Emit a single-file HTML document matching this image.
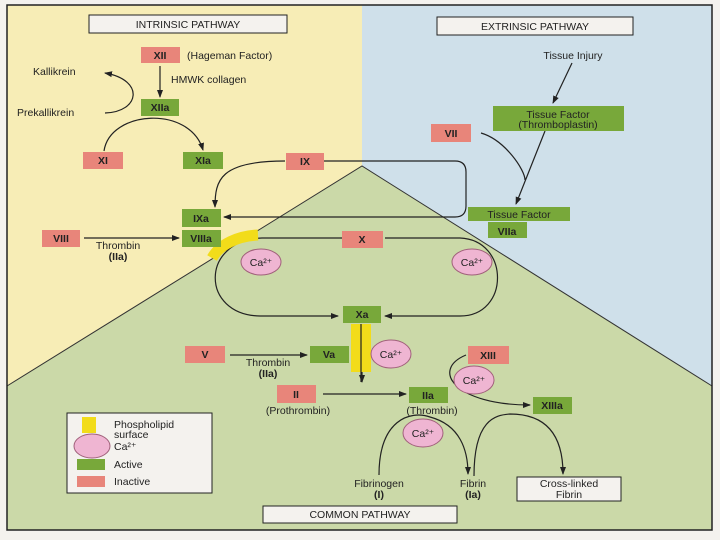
<!DOCTYPE html>
<html><head><meta charset="utf-8"><style>
body{margin:0;background:#fff;}
svg{display:block;}
text{font-family:"Liberation Sans",sans-serif;font-size:10.5px;fill:#222;}
.b{font-weight:bold;text-anchor:middle;}
.c{text-anchor:middle;}
</style></head><body>
<svg width="720" height="540" viewBox="0 0 720 540">
<defs><marker id="a" markerWidth="8" markerHeight="8" refX="7" refY="4" orient="auto" markerUnits="userSpaceOnUse"><path d="M0,1 L8,4 L0,7 Z" fill="#222"/></marker></defs>
<rect x="0" y="0" width="720" height="540" fill="#f4f2ee"/>
<rect x="7" y="5" width="355" height="525" fill="#f7edb6"/>
<rect x="362" y="5" width="350" height="525" fill="#cfe0ea"/>
<polygon points="362,166 7,386 7,530 712,530 712,386" fill="#cbd9a8"/>
<polyline points="7,386 362,166 712,386" fill="none" stroke="#333" stroke-width="1"/>
<rect x="7" y="5" width="705" height="525" fill="none" stroke="#222" stroke-width="1.5"/>
<rect x="89" y="15" width="198" height="18" fill="#f4f2ee" stroke="#222"/>
<text x="188" y="28" class="c">INTRINSIC PATHWAY</text>
<rect x="437" y="17" width="196" height="18" fill="#f4f2ee" stroke="#222"/>
<text x="535" y="30" class="c">EXTRINSIC PATHWAY</text>
<rect x="263" y="506" width="194" height="17" fill="#f4f2ee" stroke="#222"/>
<text x="360" y="518" class="c">COMMON PATHWAY</text>
<g fill="none" stroke="#222" stroke-width="1.2">
<line x1="160" y1="66" x2="160" y2="97" marker-end="url(#a)"/>
<path d="M105,113 C140,112 145,80 105,73" marker-end="url(#a)"/>
<path d="M104,151 C110,110 190,105 203,150" marker-end="url(#a)"/>
<path d="M285,161 C220,161 215,180 215,207" marker-end="url(#a)"/>
<path d="M324,161 L455,161 Q466,161 466,172 L466,206 Q466,217 455,217 L224,217" marker-end="url(#a)"/>
<line x1="84" y1="238" x2="179" y2="238" marker-end="url(#a)"/>
<path d="M342,238 L262,238 C200,240 200,315 260,316 L338,316" marker-end="url(#a)"/>
<path d="M385,238 L460,238 C510,240 510,316 460,316 L385,316" marker-end="url(#a)"/>
<path d="M572,63 L553,103" marker-end="url(#a)"/>
<path d="M545,131 L516,204" marker-end="url(#a)"/>
<path d="M481,133 C505,140 525,170 525,180"/>
<line x1="362" y1="324" x2="362" y2="382" marker-end="url(#a)"/>
<line x1="230" y1="355" x2="307" y2="355" marker-end="url(#a)"/>
<line x1="323" y1="394" x2="406" y2="394" marker-end="url(#a)"/>
<path d="M466,355 C430,370 455,405 530,405" marker-end="url(#a)"/>
<path d="M379,475 C379,420 410,410 430,417 C460,425 468,450 468,474" marker-end="url(#a)"/>
<path d="M474,476 C474,420 495,415 510,414 C550,414 563,440 563,474" marker-end="url(#a)"/>
</g>
<path d="M212,258 C220,244 238,236 258,235" fill="none" stroke="#f2dc1a" stroke-width="11"/>
<rect x="351" y="324" width="20" height="48" fill="#f2dc1a"/>
<line x1="361" y1="324" x2="361" y2="382" stroke="#222" stroke-width="1.2"/>
<g fill="#e8857a">
<rect x="141" y="47" width="39" height="16"/>
<rect x="83" y="152" width="40" height="17"/>
<rect x="286" y="153" width="38" height="17"/>
<rect x="42" y="230" width="38" height="17"/>
<rect x="342" y="231" width="41" height="17"/>
<rect x="431" y="124" width="40" height="18"/>
<rect x="185" y="346" width="40" height="17"/>
<rect x="468" y="346" width="41" height="18"/>
<rect x="277" y="385" width="39" height="18"/>
</g>
<g fill="#78a83a">
<rect x="141" y="99" width="38" height="17"/>
<rect x="183" y="152" width="40" height="17"/>
<rect x="182" y="209" width="39" height="18"/>
<rect x="182" y="230" width="39" height="17"/>
<rect x="493" y="106" width="131" height="25"/>
<rect x="468" y="207" width="102" height="14"/>
<rect x="488" y="222" width="39" height="16"/>
<rect x="343" y="306" width="38" height="17"/>
<rect x="310" y="346" width="39" height="17"/>
<rect x="409" y="387" width="39" height="16"/>
<rect x="533" y="397" width="39" height="17"/>
</g>
<g fill="#efb5d2" stroke="#a0607a">
<ellipse cx="261" cy="262" rx="20" ry="13"/>
<ellipse cx="472" cy="262" rx="20" ry="13"/>
<ellipse cx="391" cy="354" rx="20" ry="14"/>
<ellipse cx="474" cy="380" rx="20" ry="14"/>
<ellipse cx="423" cy="433" rx="20" ry="14"/>
</g>
<text x="160" y="59" class="b">XII</text>
<text x="160" y="111" class="b">XIIa</text>
<text x="103" y="164" class="b">XI</text>
<text x="203" y="164" class="b">XIa</text>
<text x="305" y="165" class="b">IX</text>
<text x="201" y="222" class="b">IXa</text>
<text x="201" y="242" class="b">VIIIa</text>
<text x="61" y="242" class="b">VIII</text>
<text x="362" y="243" class="b">X</text>
<text x="451" y="137" class="b">VII</text>
<text x="507" y="235" class="b">VIIa</text>
<text x="362" y="318" class="b">Xa</text>
<text x="205" y="358" class="b">V</text>
<text x="329" y="358" class="b">Va</text>
<text x="488" y="359" class="b">XIII</text>
<text x="296" y="398" class="b">II</text>
<text x="428" y="399" class="b">IIa</text>
<text x="552" y="409" class="b">XIIIa</text>
<text x="118" y="260" class="b">(IIa)</text>
<text x="268" y="377" class="b">(IIa)</text>
<text x="379" y="498" class="b">(I)</text>
<text x="473" y="498" class="b">(Ia)</text>
<text x="261" y="266" class="c">Ca²⁺</text>
<text x="472" y="266" class="c">Ca²⁺</text>
<text x="391" y="358" class="c">Ca²⁺</text>
<text x="474" y="384" class="c">Ca²⁺</text>
<text x="423" y="437" class="c">Ca²⁺</text>
<text x="558" y="118" class="c">Tissue Factor</text>
<text x="558" y="128" class="c">(Thromboplastin)</text>
<text x="519" y="218" class="c">Tissue Factor</text>
<text x="573" y="59" class="c">Tissue Injury</text>
<text x="118" y="249" class="c">Thrombin</text>
<text x="268" y="366" class="c">Thrombin</text>
<text x="298" y="414" class="c">(Prothrombin)</text>
<text x="432" y="414" class="c">(Thrombin)</text>
<text x="379" y="487" class="c">Fibrinogen</text>
<text x="473" y="487" class="c">Fibrin</text>
<text x="187" y="59">(Hageman Factor)</text>
<text x="33" y="75">Kallikrein</text>
<text x="17" y="116">Prekallikrein</text>
<text x="171" y="83">HMWK collagen</text>
<rect x="517" y="477" width="104" height="24" fill="#f4f2ee" stroke="#222"/>
<text x="569" y="487" class="c">Cross-linked</text>
<text x="569" y="498" class="c">Fibrin</text>
<rect x="67" y="413" width="145" height="80" fill="#f4f2ee" stroke="#222"/>
<rect x="82" y="417" width="14" height="16" fill="#f2dc1a"/>
<text x="114" y="428">Phospholipid</text>
<text x="114" y="438">surface</text>
<ellipse cx="92" cy="446" rx="18" ry="12" fill="#efb5d2" stroke="#a0607a"/>
<text x="114" y="450">Ca²⁺</text>
<rect x="77" y="459" width="28" height="11" fill="#78a83a"/>
<text x="114" y="468">Active</text>
<rect x="77" y="476" width="28" height="11" fill="#e8857a"/>
<text x="114" y="485">Inactive</text>
</svg>
</body></html>
